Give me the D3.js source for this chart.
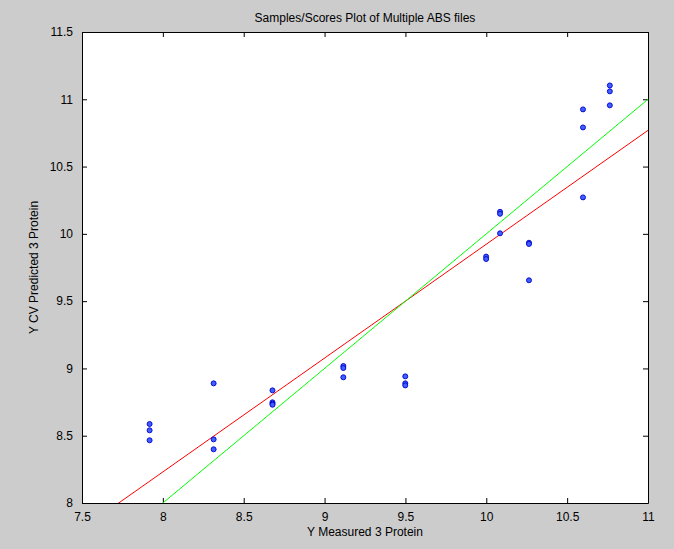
<!DOCTYPE html>
<html>
<head>
<meta charset="utf-8">
<script src="https://cdn.jsdelivr.net/npm/d3@7/dist/d3.min.js"></script>
<style>
  body { margin: 0; background: #cccccc; }
  svg { display: block; font-family: "Liberation Sans", Arial, sans-serif; }
</style>
</head>
<body>
<svg id="chart"></svg>
<script>
const W = 674
const H = 549
const MARGIN = {top: 32, right: 26, bottom: 46, left: 82}

// measured vs CV predicted samples
const measured = [
  7.918, 7.918, 7.918,
  8.314, 8.314, 8.314,
  8.678, 8.678, 8.678, 8.678,
  9.116, 9.116, 9.116,
  9.499, 9.499, 9.499,
  9.999, 9.999,
  10.085, 10.085, 10.085,
  10.264, 10.264, 10.264,
  10.598, 10.598, 10.598,
  10.764, 10.764, 10.764
]
const predicted = [
  8.587, 8.54, 8.466,
  8.889, 8.473, 8.399,
  8.837, 8.748, 8.738, 8.73,
  9.018, 9.003, 8.934,
  8.941, 8.889, 8.874,
  9.831, 9.813,
  10.164, 10.149, 10.004,
  9.934, 9.925, 9.655,
  10.925, 10.791, 10.271,
  11.103, 11.059, 10.955
]

// lines: ideal (y = x) and fitted regression
const idealLine = [[7.5, 7.5], [11, 11]]
const fitSlope = 0.846
const fitIntercept = 1.463
const fitLine = [7.5, 11].map((x) => [x, fitSlope * x + fitIntercept])

const xTicks = [7.5, 8, 8.5, 9, 9.5, 10, 10.5, 11]
const yTicks = [8, 8.5, 9, 9.5, 10, 10.5, 11, 11.5]
const xDomain = [7.5, 11]
const yDomain = [8, 11.5]

const svg = d3.select("#chart").attr("width", W).attr("height", H)
svg.append("rect").attr("width", W).attr("height", H).attr("fill", "#cccccc")

const pw = W - MARGIN.left - MARGIN.right
const ph = H - MARGIN.top - MARGIN.bottom

const x = d3.scaleLinear().domain(xDomain).range([MARGIN.left, MARGIN.left + pw])
const y = d3.scaleLinear().domain(yDomain).range([MARGIN.top + ph, MARGIN.top])

svg.append("rect")
  .attr("x", MARGIN.left).attr("y", MARGIN.top)
  .attr("width", pw).attr("height", ph)
  .attr("fill", "#ffffff")

svg.append("clipPath").attr("id", "clip")
  .append("rect")
  .attr("x", MARGIN.left).attr("y", MARGIN.top)
  .attr("width", pw).attr("height", ph)

const fmt = (d) => String(d)
const TICK = 5

// axes, ticks pointing inward on all four sides (matlab box)
const axes = [
  {gen: d3.axisBottom(x).tickValues(xTicks).tickFormat(fmt).tickSizeInner(-TICK), t: `translate(0,${MARGIN.top + ph})`, labels: true},
  {gen: d3.axisTop(x).tickValues(xTicks).tickFormat("").tickSizeInner(-TICK), t: `translate(0,${MARGIN.top})`, labels: false},
  {gen: d3.axisLeft(y).tickValues(yTicks).tickFormat(fmt).tickSizeInner(-TICK), t: `translate(${MARGIN.left},0)`, labels: true},
  {gen: d3.axisRight(y).tickValues(yTicks).tickFormat("").tickSizeInner(-TICK), t: `translate(${MARGIN.left + pw},0)`, labels: false}
]
axes.forEach((a) => {
  const g = svg.append("g").attr("transform", a.t)
    .call(a.gen.tickSizeOuter(0).tickPadding(9))
  g.select(".domain").attr("stroke", "#000").attr("stroke-width", 1)
  g.selectAll(".tick line").attr("stroke", "#000")
  g.selectAll(".tick text").attr("fill", "#000").attr("font-size", 12)
})

const plot = svg.append("g").attr("clip-path", "url(#clip)")
const line = d3.line().x((d) => x(d[0])).y((d) => y(d[1]))

plot.append("path").datum(fitLine)
  .attr("d", line).attr("fill", "none").attr("stroke", "#ff0000").attr("stroke-width", 1)
plot.append("path").datum(idealLine)
  .attr("d", line).attr("fill", "none").attr("stroke", "#00ff00").attr("stroke-width", 1)

plot.selectAll("circle")
  .data(measured.map((m, i) => [m, predicted[i]]))
  .enter()
  .append("circle")
  .attr("cx", (d) => x(d[0]))
  .attr("cy", (d) => y(d[1]))
  .attr("r", 2.5)
  .attr("fill", "#3f5fff")
  .attr("stroke", "#0000cc")
  .attr("stroke-width", 0.9)

svg.append("text")
  .attr("x", MARGIN.left + pw / 2).attr("y", 22)
  .attr("text-anchor", "middle").attr("font-size", 12).attr("fill", "#000")
  .text("Samples/Scores Plot of Multiple ABS files")

svg.append("text")
  .attr("x", MARGIN.left + pw / 2).attr("y", 536)
  .attr("text-anchor", "middle").attr("font-size", 12).attr("fill", "#000")
  .text("Y Measured 3 Protein")

svg.append("text")
  .attr("transform", `translate(38,${MARGIN.top + ph / 2}) rotate(-90)`)
  .attr("text-anchor", "middle").attr("font-size", 12).attr("fill", "#000")
  .text("Y CV Predicted 3 Protein")
</script>
</body>
</html>
